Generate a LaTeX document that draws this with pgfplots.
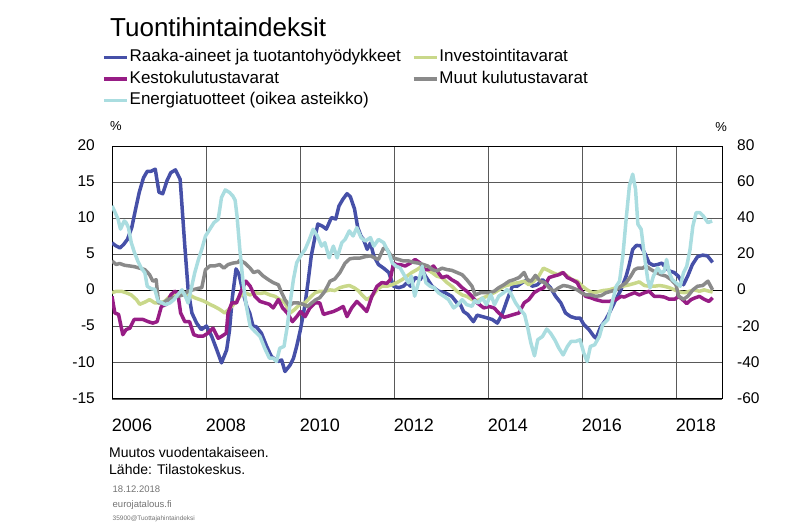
\documentclass[border=0pt]{standalone}
\usepackage{fontspec}
\setmainfont{Liberation Sans}
\usepackage{pgfplots}
\pgfplotsset{compat=1.18}
\definecolor{cblue}{HTML}{4650A8}
\definecolor{cmag}{HTML}{971D85}
\definecolor{cgreen}{HTML}{C9D88A}
\definecolor{cgray}{HTML}{8A8A8A}
\definecolor{ccyan}{HTML}{AADDE0}
\begin{document}
\begin{tikzpicture}
\path[use as bounding box] (0bp,0bp) rectangle (800bp,522bp);
\begin{axis}[
  at={(112bp,123bp)}, anchor=south west,
  scale only axis, width=610bp, height=253bp,
  xmin=2006, xmax=2018.98, ymin=-15, ymax=20,
  xtick={2006,2008,2010,2012,2014,2016,2018},
  xticklabels={2006,2008,2010,2012,2014,2016,2018},
  ytick={-15,-10,-5,0,5,10,15,20},
  yticklabels={-15,-10,-5,0,5,10,15,20},
  xticklabel style={font=\fontsize{18bp}{20bp}\selectfont, inner sep=0pt, anchor=north, xshift=20bp, yshift=-20bp},
  yticklabel style={font=\fontsize{15.5bp}{18bp}\selectfont, inner sep=0pt, anchor=east, xshift=-17bp, yshift=1bp},
  tick style={draw=none},
  grid=major, grid style={black!65, line width=0.8bp},
  axis line style={black, line width=1bp},
  extra y ticks={0}, extra y tick labels={},
  extra y tick style={grid style={black, line width=1.3bp}},
  legend columns=2,
  legend cell align=left,
  legend style={at={(axis description cs:-0.0164,1.385)}, anchor=north west, draw=none, fill=none, inner sep=0pt,
    font=\fontsize{17bp}{20bp}\selectfont,
    nodes={text height=13bp, text depth=4bp, inner ysep=0pt, inner xsep=1bp},
    row sep=4.5bp,
    /tikz/every even column/.append style={column sep=10bp}},
  legend image code/.code={\draw[#1, line width=3.5bp] (0bp,0bp) -- (23bp,0bp);},
  every axis plot/.append style={line width=3.5bp, line join=round},
]
\addplot[cblue] table {
2006.00 6.6
2006.08 6.2
2006.17 5.9
2006.25 6.4
2006.33 7.1
2006.42 8.7
2006.50 11.2
2006.58 13.6
2006.67 15.6
2006.75 16.5
2006.83 16.5
2006.92 16.8
2007.00 13.6
2007.08 13.4
2007.17 15.2
2007.25 16.3
2007.35 16.7
2007.45 15.4
2007.55 6.1
2007.62 0.1
2007.70 -3.1
2007.80 -4.5
2007.90 -5.4
2008.01 -4.9
2008.12 -6.3
2008.23 -8.2
2008.33 -10.0
2008.44 -8.2
2008.50 -5.5
2008.56 -1.0
2008.64 3.0
2008.70 2.3
2008.79 -0.3
2008.87 -2.2
2008.93 -3.1
2009.00 -4.9
2009.07 -5.0
2009.18 -5.9
2009.29 -7.7
2009.39 -9.1
2009.53 -9.8
2009.61 -9.6
2009.68 -11.2
2009.79 -10.3
2009.86 -9.4
2009.93 -7.7
2010.01 -5.4
2010.10 -2.2
2010.17 1.1
2010.24 4.8
2010.31 7.1
2010.38 9.2
2010.48 8.9
2010.56 8.5
2010.67 10.1
2010.76 9.9
2010.83 11.7
2010.91 12.6
2011.00 13.4
2011.07 13.0
2011.16 11.3
2011.23 8.7
2011.30 7.5
2011.35 7.1
2011.43 5.7
2011.50 6.6
2011.57 4.8
2011.67 3.6
2011.78 3.1
2011.89 2.5
2011.99 0.6
2012.10 0.4
2012.20 0.6
2012.28 1.1
2012.35 0.6
2012.45 1.8
2012.56 1.5
2012.63 2.5
2012.67 2.0
2012.81 0.6
2012.95 -0.1
2013.09 -0.3
2013.23 -0.8
2013.34 -1.7
2013.41 -1.9
2013.48 -2.9
2013.57 -3.3
2013.69 -4.3
2013.77 -3.4
2013.88 -3.6
2013.99 -3.8
2014.09 -4.0
2014.20 -4.5
2014.30 -3.3
2014.41 -1.25
2014.52 0.6
2014.62 0.6
2014.73 1.1
2014.84 1.5
2014.94 0.6
2015.05 0.8
2015.16 1.5
2015.23 1.1
2015.33 0.4
2015.44 -0.8
2015.55 -1.7
2015.65 -3.1
2015.76 -3.6
2015.86 -3.8
2015.96 -3.8
2016.04 -4.7
2016.15 -5.4
2016.25 -6.3
2016.30 -6.6
2016.40 -5.0
2016.51 -4.0
2016.62 -2.6
2016.72 -1.25
2016.83 0.1
2016.94 2.0
2017.00 3.4
2017.08 5.7
2017.16 6.25
2017.25 6.2
2017.35 5.0
2017.43 3.8
2017.52 3.5
2017.61 3.6
2017.70 3.8
2017.79 3.1
2017.87 2.7
2017.96 2.5
2018.05 2.0
2018.16 0.8
2018.25 2.0
2018.35 3.6
2018.46 4.7
2018.57 4.9
2018.67 4.8
2018.78 3.9
};
\addlegendentry{Raaka-aineet ja tuotantohyödykkeet}
\addplot[cgreen] table {
2006.00 -0.3
2006.09 -0.1
2006.20 -0.1
2006.30 -0.3
2006.41 -0.6
2006.52 -1.25
2006.59 -1.9
2006.70 -1.6
2006.80 -1.25
2006.91 -1.7
2007.01 -1.7
2007.12 -1.5
2007.23 -0.8
2007.33 -0.6
2007.44 -0.4
2007.55 -0.3
2007.65 -0.6
2007.76 -1.0
2007.87 -1.25
2007.97 -1.5
2008.08 -1.9
2008.18 -2.2
2008.29 -2.6
2008.40 -3.1
2008.50 -2.5
2008.62 -1.7
2008.72 -0.8
2008.83 -0.3
2008.94 -0.6
2009.04 -0.3
2009.15 -0.4
2009.25 -0.3
2009.36 -0.6
2009.47 -0.8
2009.57 -1.25
2009.68 -1.7
2009.79 -3.1
2009.89 -2.6
2010.00 -1.9
2010.11 -1.7
2010.21 -1.0
2010.32 -0.3
2010.42 -0.1
2010.53 -0.1
2010.64 0.1
2010.74 0.0
2010.85 0.4
2010.96 0.6
2011.05 0.7
2011.15 0.4
2011.24 0.0
2011.32 -0.6
2011.42 -1.25
2011.53 -0.8
2011.64 0.1
2011.74 0.6
2011.85 0.6
2011.96 0.8
2012.06 1.1
2012.17 1.5
2012.28 2.0
2012.38 2.5
2012.49 2.9
2012.60 3.4
2012.70 2.9
2012.81 2.5
2012.91 2.0
2013.02 1.8
2013.13 1.1
2013.23 0.6
2013.34 -0.1
2013.45 -0.6
2013.55 -0.8
2013.66 -1.25
2013.77 -1.4
2013.87 -1.1
2013.97 -0.8
2014.13 -0.3
2014.23 0.1
2014.34 0.6
2014.45 0.8
2014.55 1.0
2014.66 1.1
2014.77 1.3
2014.87 0.8
2014.98 1.3
2015.08 2.0
2015.18 3.1
2015.28 2.8
2015.37 2.5
2015.48 2.2
2015.58 2.5
2015.69 2.0
2015.79 1.5
2015.90 1.3
2016.01 0.6
2016.11 0.1
2016.22 -0.3
2016.33 -0.2
2016.44 0.0
2016.58 0.1
2016.73 0.4
2016.87 0.6
2017.01 0.8
2017.12 1.0
2017.22 1.2
2017.33 0.7
2017.43 0.6
2017.54 0.6
2017.65 0.7
2017.75 0.6
2017.86 0.4
2017.97 0.1
2018.07 -0.2
2018.18 -0.3
2018.29 -0.1
2018.39 0.1
2018.50 -0.1
2018.60 0.1
2018.71 -0.1
2018.78 -0.2
};
\addlegendentry{Investointitavarat}
\addplot[cmag] table {
2006.00 -0.8
2006.06 -3.1
2006.14 -3.3
2006.23 -6.1
2006.30 -5.4
2006.38 -5.2
2006.47 -4.0
2006.55 -4.0
2006.66 -4.0
2006.77 -4.3
2006.87 -4.5
2006.96 -4.3
2007.05 -2.2
2007.16 -1.9
2007.25 -0.6
2007.33 -0.1
2007.40 -0.3
2007.46 -3.1
2007.55 -4.3
2007.65 -4.3
2007.74 -6.1
2007.83 -6.3
2007.94 -6.3
2008.04 -5.9
2008.15 -5.2
2008.26 -6.6
2008.34 -6.3
2008.43 -5.9
2008.47 -3.1
2008.55 -1.7
2008.65 -1.7
2008.76 0.1
2008.85 1.3
2008.94 0.6
2009.04 -0.8
2009.15 -1.5
2009.25 -1.7
2009.35 -1.9
2009.43 -2.4
2009.54 -1.25
2009.63 -2.4
2009.73 -3.1
2009.84 -4.3
2009.93 -3.6
2010.01 -2.9
2010.11 -3.6
2010.21 -2.4
2010.32 -1.7
2010.42 -1.7
2010.50 -3.3
2010.60 -3.1
2010.71 -2.9
2010.81 -2.6
2010.92 -2.2
2011.00 -3.6
2011.10 -2.4
2011.21 -1.5
2011.32 -2.2
2011.42 -2.9
2011.53 -0.8
2011.64 0.6
2011.74 1.1
2011.85 1.0
2011.92 1.5
2011.99 3.8
2012.06 3.6
2012.13 3.6
2012.24 3.4
2012.35 3.8
2012.45 4.3
2012.56 3.8
2012.65 2.9
2012.74 2.9
2012.84 3.4
2012.94 2.5
2013.02 1.8
2013.13 2.0
2013.23 1.5
2013.34 1.1
2013.45 0.4
2013.55 -0.1
2013.66 -0.8
2013.77 -1.7
2013.87 -2.2
2013.91 -2.4
2014.02 -2.2
2014.13 -2.4
2014.23 -3.1
2014.34 -3.7
2014.45 -3.5
2014.55 -3.3
2014.66 -3.1
2014.77 -1.7
2014.87 -1.25
2014.98 -0.3
2015.08 0.1
2015.19 0.4
2015.30 1.8
2015.40 2.0
2015.51 2.2
2015.60 2.5
2015.69 1.8
2015.79 1.5
2015.90 1.1
2015.99 -0.1
2016.08 -0.8
2016.19 -1.0
2016.29 -1.25
2016.44 -1.5
2016.58 -1.5
2016.73 -1.25
2016.83 -0.8
2016.90 -0.9
2017.00 -0.6
2017.12 -0.3
2017.22 -0.6
2017.33 -0.3
2017.43 -0.1
2017.54 -0.8
2017.65 -0.8
2017.75 -0.9
2017.86 -1.2
2017.97 -1.2
2018.06 -0.8
2018.14 -1.25
2018.23 -1.8
2018.32 -1.25
2018.41 -1.0
2018.50 -0.8
2018.60 -1.2
2018.70 -1.5
2018.78 -1.0
};
\addlegendentry{Kestokulutustavarat}
\addplot[cgray] table {
2006.00 4.1
2006.09 3.6
2006.16 3.75
2006.27 3.5
2006.38 3.4
2006.48 3.3
2006.59 3.1
2006.70 2.9
2006.80 2.2
2006.87 1.3
2006.94 1.5
2006.99 -1.7
2007.09 -1.7
2007.19 -1.25
2007.30 -1.0
2007.40 -0.8
2007.51 -0.6
2007.62 -0.1
2007.72 0.1
2007.83 0.3
2007.91 0.4
2007.99 2.9
2008.08 3.4
2008.18 3.4
2008.29 3.6
2008.38 3.1
2008.47 3.6
2008.57 3.8
2008.68 3.9
2008.72 4.2
2008.83 3.8
2008.94 3.1
2009.01 2.5
2009.11 2.7
2009.22 2.0
2009.33 1.5
2009.43 1.1
2009.54 0.8
2009.61 -0.3
2009.68 -1.25
2009.77 -2.1
2009.86 -1.7
2009.96 -1.7
2010.07 -1.9
2010.16 -2.2
2010.25 -1.7
2010.34 -1.25
2010.42 -1.0
2010.53 -0.1
2010.64 1.3
2010.74 1.6
2010.85 2.5
2010.96 3.8
2011.06 4.4
2011.17 4.5
2011.28 4.5
2011.39 4.7
2011.50 4.8
2011.60 4.5
2011.67 4.3
2011.78 5.9
2011.85 5.7
2011.92 5.0
2011.99 4.5
2012.10 4.3
2012.20 4.1
2012.31 4.1
2012.42 3.9
2012.52 3.8
2012.63 3.6
2012.72 3.4
2012.82 2.9
2012.91 2.7
2013.02 3.1
2013.13 2.9
2013.23 2.8
2013.34 2.5
2013.45 2.2
2013.55 1.5
2013.66 0.6
2013.73 -0.6
2013.84 -0.3
2013.91 -0.3
2014.02 -0.3
2014.13 -0.1
2014.23 0.4
2014.34 0.8
2014.45 1.3
2014.55 1.5
2014.66 1.8
2014.77 2.5
2014.84 1.5
2014.92 1.3
2015.01 2.1
2015.11 1.3
2015.21 1.1
2015.30 0.4
2015.40 -0.1
2015.51 0.4
2015.60 0.7
2015.70 0.6
2015.79 0.4
2015.90 0.1
2015.99 -0.3
2016.08 -0.6
2016.19 -0.6
2016.29 -0.8
2016.41 -0.7
2016.51 -0.3
2016.62 -0.1
2016.73 0.1
2016.83 0.6
2016.94 1.1
2017.04 2.0
2017.12 2.9
2017.19 3.1
2017.29 3.1
2017.36 3.4
2017.47 2.9
2017.58 2.5
2017.68 2.2
2017.79 2.0
2017.90 1.5
2018.00 0.8
2018.06 -0.8
2018.16 -1.2
2018.25 -0.8
2018.36 0.1
2018.46 0.6
2018.57 0.7
2018.68 1.3
2018.78 0.1
};
\addlegendentry{Muut kulutustavarat}
\addlegendimage{ccyan}
\addlegendentry{Energiatuotteet (oikea asteikko)}
\end{axis}
\begin{axis}[
  at={(112bp,123bp)}, anchor=south west,
  scale only axis, width=610bp, height=253bp,
  xmin=2006, xmax=2018.98, ymin=-60, ymax=80,
  axis x line=none, axis y line*=right,
  ytick={-60,-40,-20,0,20,40,60,80},
  yticklabels={-60,-40,-20,0,20,40,60,80},
  yticklabel style={font=\fontsize{15.5bp}{18bp}\selectfont, inner sep=0pt, anchor=west, xshift=15bp, yshift=1bp},
  tick style={draw=none},
  axis line style={draw=none},
]
\addplot[ccyan, line width=3.5bp, line join=round] table {
2006.00 46.9
2006.07 43
2006.13 39.4
2006.18 34
2006.26 38.5
2006.30 37.6
2006.35 34.8
2006.41 26.5
2006.48 20.9
2006.55 16.3
2006.62 12.6
2006.70 9.8
2006.75 2.4
2006.84 0.9
2006.91 0.8
2006.98 -5.9
2007.05 -6.5
2007.13 -7.8
2007.23 -6.9
2007.32 -5.0
2007.40 -2.2
2007.49 0.4
2007.56 -3.1
2007.62 -6.9
2007.69 1.5
2007.76 9.8
2007.84 17.2
2007.91 22.8
2007.99 30.2
2008.08 33.9
2008.17 37.6
2008.26 39.4
2008.33 51.5
2008.41 55.7
2008.50 54.3
2008.57 52.4
2008.62 50
2008.66 41.3
2008.72 22.8
2008.79 4.3
2008.86 -8.7
2008.94 -19.8
2009.04 -22.6
2009.15 -25.4
2009.25 -31.9
2009.35 -37.4
2009.43 -37.4
2009.50 -39.3
2009.57 -31.9
2009.66 -30.9
2009.73 -19.8
2009.79 -6.9
2009.86 6.1
2009.93 15.4
2010.01 19.1
2010.11 22.8
2010.20 28.3
2010.28 33.9
2010.37 30.2
2010.46 24.6
2010.53 26.5
2010.62 18.1
2010.71 24.6
2010.79 18.1
2010.89 26.5
2010.96 28.3
2011.05 33.0
2011.13 30.2
2011.21 34.8
2011.30 29.3
2011.39 27.4
2011.50 29.3
2011.57 24.6
2011.67 28.3
2011.78 26.5
2011.89 20.9
2011.96 15.4
2012.04 13.5
2012.13 12.6
2012.23 8.0
2012.31 4.3
2012.37 8.0
2012.44 -3.1
2012.52 4.3
2012.60 13.5
2012.68 4.3
2012.77 2.4
2012.86 1.5
2012.95 -1.3
2013.06 -3.1
2013.16 -5.0
2013.27 -9.6
2013.36 -7.8
2013.45 -5.0
2013.55 -7.8
2013.66 -8.7
2013.72 -5.5
2013.79 -6.9
2013.88 -4.1
2013.97 -7.8
2014.06 -2.2
2014.14 -7.8
2014.23 -3.1
2014.33 -1.3
2014.41 0.6
2014.48 -1.3
2014.59 -6.9
2014.69 -10.6
2014.78 -13.3
2014.84 -19.8
2014.91 -28.7
2014.99 -36.1
2015.06 -27.2
2015.16 -25.4
2015.25 -21.3
2015.33 -23.5
2015.42 -27.2
2015.51 -31.9
2015.60 -35.6
2015.69 -30.9
2015.77 -28.1
2015.87 -28.1
2015.96 -27.2
2016.04 -34.6
2016.11 -39.3
2016.18 -30.9
2016.27 -30.0
2016.37 -25.4
2016.44 -18.9
2016.55 -16.1
2016.64 -6.9
2016.73 2.4
2016.80 5.2
2016.87 19.1
2016.94 39.4
2017.01 58
2017.08 64.4
2017.14 56.1
2017.19 36.7
2017.26 33.9
2017.33 19.1
2017.40 6.1
2017.45 1.5
2017.52 8.0
2017.61 12.6
2017.68 9.8
2017.75 10.7
2017.80 17.2
2017.86 9.8
2017.92 6.1
2018.00 4.3
2018.09 2.4
2018.16 9.8
2018.23 13.5
2018.30 22.8
2018.36 35.7
2018.43 43.1
2018.51 43.1
2018.58 41.3
2018.68 37.6
2018.77 38.5
};
\end{axis}
\node[anchor=base west, inner sep=0pt, font=\fontsize{26bp}{30bp}\selectfont] at (110bp,485.5bp) {Tuontihintaindeksit};
\node[anchor=base west, inner sep=0pt, font=\fontsize{13bp}{15bp}\selectfont] at (110bp,391bp) {\%};
\node[anchor=base east, inner sep=0pt, font=\fontsize{13bp}{15bp}\selectfont] at (727bp,390bp) {\%};
\node[anchor=base west, inner sep=0pt, font=\fontsize{14bp}{16bp}\selectfont] at (109bp,64bp) {Muutos vuodentakaiseen.};
\node[anchor=base west, inner sep=0pt, font=\fontsize{14bp}{16bp}\selectfont] at (109bp,47bp) {Lähde: Tilastokeskus.};
\node[anchor=base west, inner sep=0pt, text=black!55, font=\fontsize{9.5bp}{11bp}\selectfont] at (112.5bp,29.5bp) {18.12.2018};
\node[anchor=base west, inner sep=0pt, text=black!55, font=\fontsize{9.5bp}{11bp}\selectfont] at (112.5bp,15bp) {eurojatalous.fi};
\node[anchor=base west, inner sep=0pt, text=black!55, font=\fontsize{6.5bp}{8bp}\selectfont] at (112.5bp,1.5bp) {35900@Tuottajahintaindeksi};
\end{tikzpicture}
\end{document}
